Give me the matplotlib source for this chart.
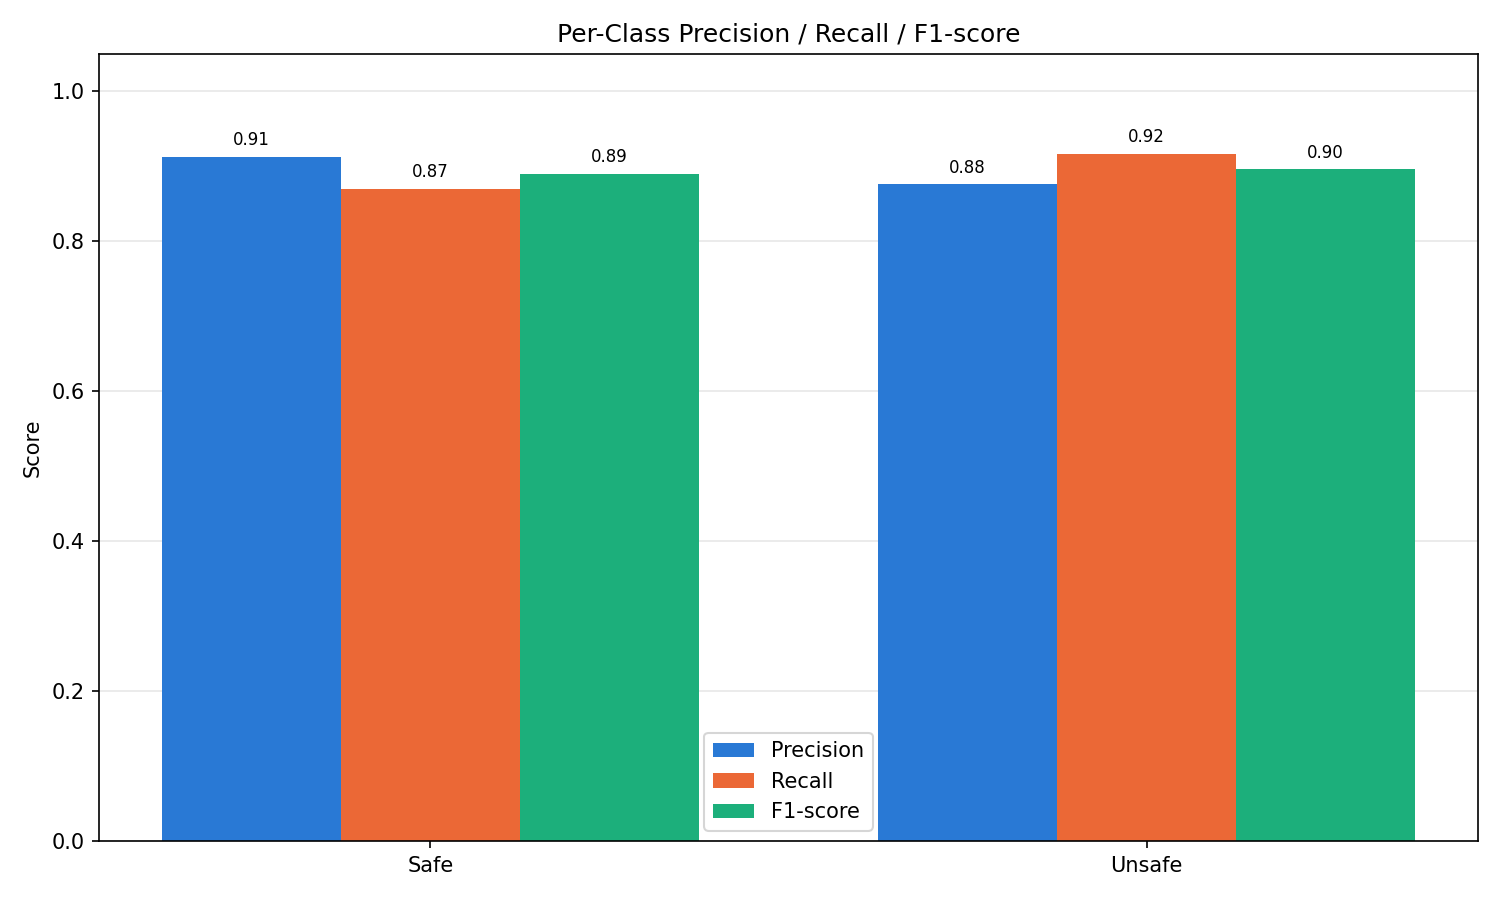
import numpy as np
import matplotlib.pyplot as plt

classes = ["Safe", "Unsafe"]
metrics = ["Precision", "Recall", "F1-score"]
precision = [0.913, 0.876]
recall = [0.870, 0.917]
f1 = [0.890, 0.896]
colors = ["#2979d5", "#eb6836", "#1caf7b"]

x = np.arange(len(classes))
width = 0.25

fig, ax = plt.subplots(figsize=(10, 6), dpi=150)
ax.grid(axis="y", alpha=0.3)
ax.set_axisbelow(True)

for i, (name, vals) in enumerate(zip(metrics, [precision, recall, f1])):
    bars = ax.bar(x + (i - 1) * width, vals, width, label=name, color=colors[i])
    for b, v in zip(bars, vals):
        ax.text(b.get_x() + b.get_width() / 2, v + 0.01, f"{v:.2f}",
                ha="center", va="bottom", fontsize=8)

ax.set_xticks(x)
ax.set_xticklabels(classes)
ax.set_ylim(0, 1.05)
ax.set_ylabel("Score")
ax.set_title("Per-Class Precision / Recall / F1-score")
ax.legend(loc="lower center")

fig.subplots_adjust(left=0.066, right=0.9853, top=0.94, bottom=0.0656)
fig.savefig("out.png")
